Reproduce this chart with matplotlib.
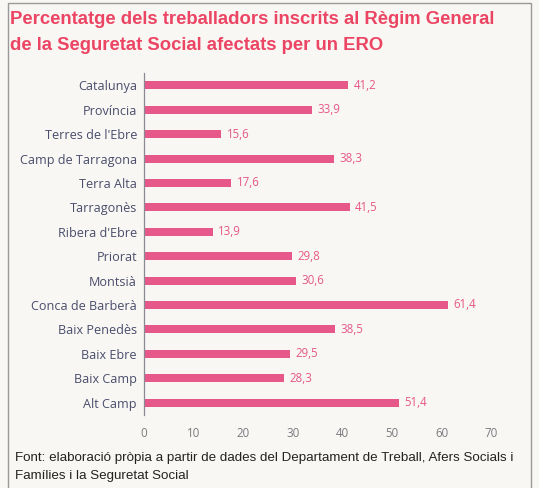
import matplotlib
matplotlib.use('Agg')
import matplotlib.pyplot as plt
from matplotlib.patches import Rectangle

categories = ['Catalunya', 'Província', "Terres de l'Ebre", 'Camp de Tarragona',
              'Terra Alta', 'Tarragonès', "Ribera d'Ebre", 'Priorat', 'Montsià',
              'Conca de Barberà', 'Baix Penedès', 'Baix Ebre', 'Baix Camp', 'Alt Camp']
values = [41.2, 33.9, 15.6, 38.3, 17.6, 41.5, 13.9, 29.8, 30.6, 61.4, 38.5, 29.5, 28.3, 51.4]
xticks = [0, 10, 20, 30, 40, 50, 60, 70]

title_lines = ['Percentatge dels treballadors inscrits al Règim General',
               'de la Seguretat Social afectats per un ERO']
source_lines = ['Font: elaboració pròpia a partir de dades del Departament de Treball, Afers Socials i',
                'Famílies i la Seguretat Social']

bg = '#f8f7f3'
pink = '#e6578a'
label_font = ['Open Sans', 'DejaVu Sans']

fig = plt.figure(figsize=(5.39, 4.88), dpi=100, facecolor=bg)
ax = fig.add_axes([0.267, 0.150, 0.644, 0.700], facecolor=bg)

pos = list(range(len(categories)))
ax.barh(pos, values, height=0.33, color=pink)
for y, v in zip(pos, values):
    ax.text(v + 1.1, y, f'{v:.1f}'.replace('.', ','), va='center', ha='left',
            color=pink, fontsize=8.3, family=label_font)

ax.set_ylim(13.5, -0.5)
ax.set_xlim(0, 70)
ax.set_yticks(pos)
ax.set_yticklabels(categories, family=label_font, fontsize=9.1, color='#4a4d6c')
ax.set_xticks(xticks)
ax.set_xticklabels([str(t) for t in xticks], family=label_font, fontsize=8.3, color='#7a7a80')
ax.tick_params(axis='y', length=0, pad=5)
ax.tick_params(axis='x', length=0, pad=9)
for s in ['top', 'right', 'bottom']:
    ax.spines[s].set_visible(False)
ax.spines['left'].set_color('#8a8a95')
ax.spines['left'].set_linewidth(0.9)

for i, line in enumerate(title_lines):
    fig.text(0.019, 1 - (24 + 26 * i) / 488, line, ha='left', va='baseline', color='#ec4564',
             fontsize=13.3, fontweight='bold',
             family=['Liberation Sans', 'DejaVu Sans'])
for i, line in enumerate(source_lines):
    fig.text(0.027, 1 - (461 + 18 * i) / 488, line, ha='left', va='baseline', color='#222222',
             fontsize=9.6, family=['Liberation Sans', 'DejaVu Sans'])

fig.patches.append(Rectangle((8 / 539, -0.01), 523 / 539, 1 - 3 / 488 + 0.01,
                             transform=fig.transFigure, fill=False,
                             edgecolor='#9a9a9a', linewidth=1.0))

fig.savefig('out.png', dpi=100, facecolor=bg)
